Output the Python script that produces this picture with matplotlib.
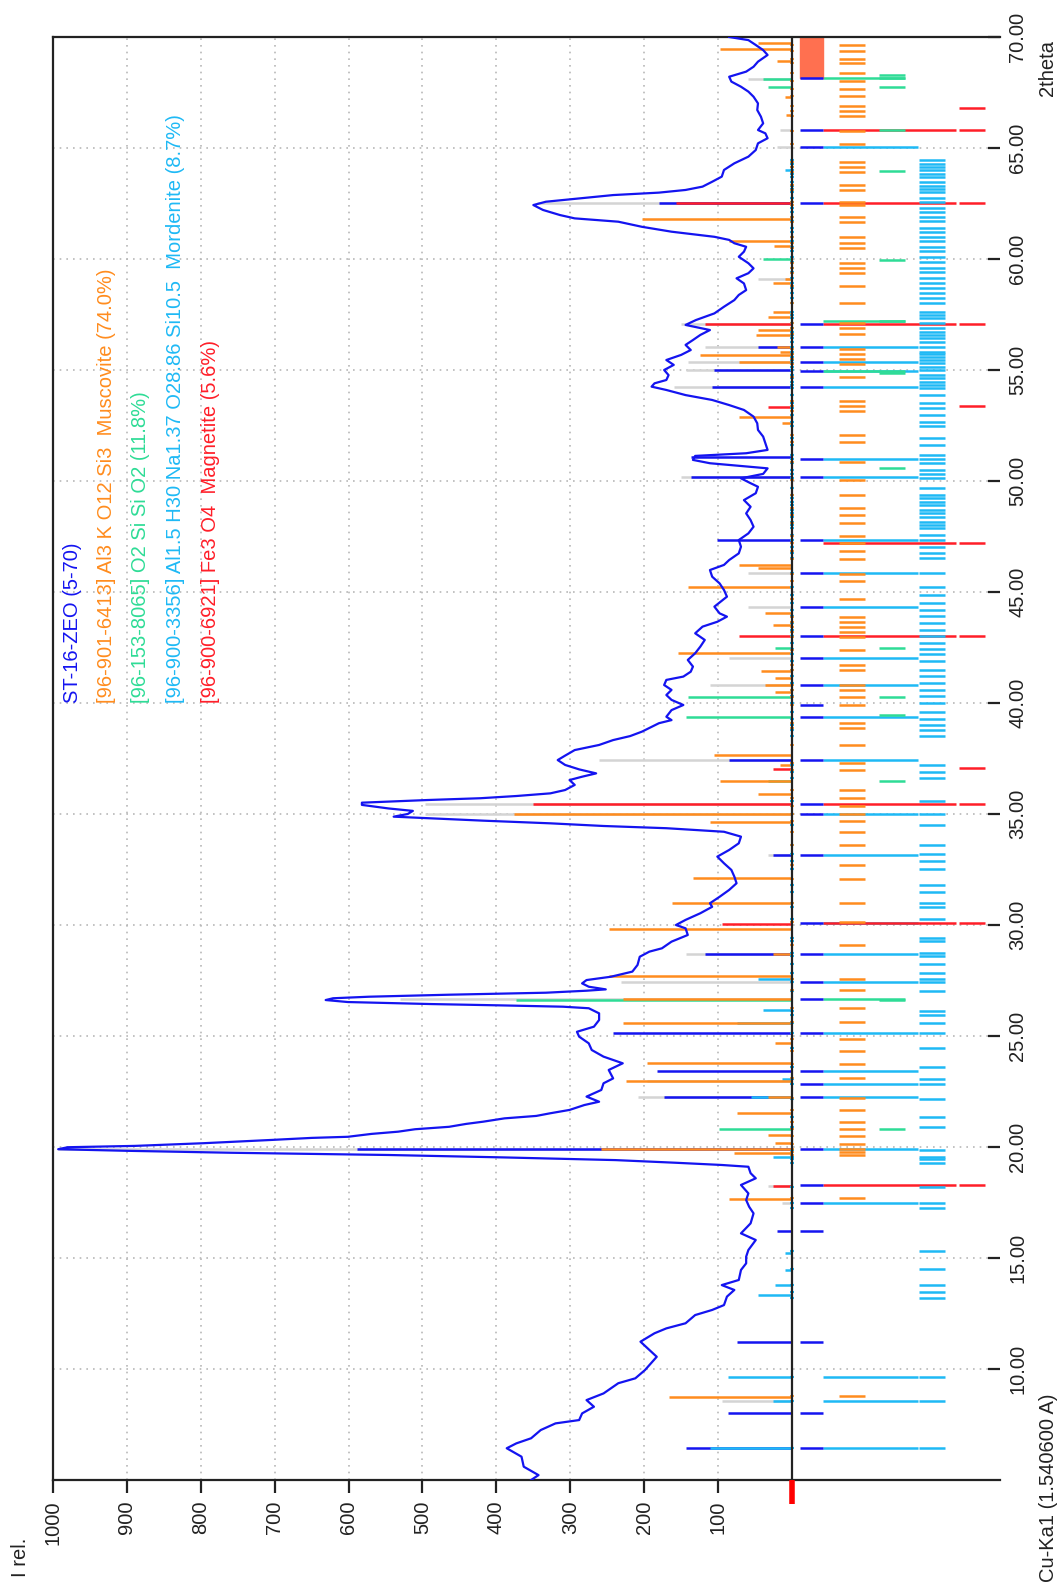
import matplotlib
matplotlib.use("Agg")
import matplotlib.pyplot as plt

plt.rcParams['font.family'] = ['Liberation Sans', 'DejaVu Sans']

# measured pattern: 2theta (deg) and relative intensity
two_theta = [5.00, 5.22, 5.60, 6.05, 6.43, 6.65, 6.88, 7.25, 7.55, 7.70, 8.00, 8.30, 8.60, 8.90,
             9.36, 9.58, 9.95, 10.55, 10.86, 11.23, 11.61, 11.83, 12.06, 12.43, 12.66, 12.88,
             13.26, 13.56, 13.78, 14.01, 14.46, 14.76, 15.06, 15.36, 15.81, 16.11, 16.56, 17.01,
             17.31, 17.61, 17.91, 18.29, 18.59, 18.82, 19.11, 19.19, 19.29, 19.41, 19.53, 19.64,
             19.74, 19.83, 19.90, 19.99, 20.05, 20.17, 20.32, 20.41, 20.46, 20.59, 20.69, 20.80,
             20.91, 21.04, 21.14, 21.29, 21.40, 21.52, 21.67, 21.89, 22.04, 22.27, 22.57, 22.87,
             23.09, 23.47, 23.77, 24.07, 24.37, 24.67, 24.97, 25.19, 25.42, 25.72, 26.02, 26.25,
             26.32, 26.38, 26.44, 26.53, 26.62, 26.70, 26.77, 26.86, 26.95, 27.04, 27.10, 27.22,
             27.37, 27.52, 27.67, 27.90, 28.20, 28.57, 28.80, 28.95, 29.25, 29.55, 29.85, 30.00,
             30.23, 30.53, 30.82, 30.98, 31.27, 31.58, 31.88, 32.18, 32.48, 32.78, 33.08, 33.38,
             33.68, 33.98, 34.20, 34.36, 34.46, 34.58, 34.70, 34.79, 34.88, 35.00, 35.14, 35.25,
             35.41, 35.51, 35.63, 35.71, 35.81, 35.93, 36.08, 36.31, 36.53, 36.68, 36.83, 37.01,
             37.21, 37.43, 37.63, 37.88, 38.11, 38.33, 38.51, 38.71, 39.09, 39.23, 39.38, 39.68,
             39.91, 40.14, 40.36, 40.59, 40.81, 41.04, 41.19, 41.41, 41.64, 41.94, 42.24, 42.54,
             42.84, 43.14, 43.44, 43.66, 43.89, 44.04, 44.34, 44.79, 45.09, 45.39, 45.69, 45.99,
             46.22, 46.44, 46.74, 47.04, 47.34, 47.64, 47.94, 48.24, 48.54, 48.84, 49.14, 49.45,
             49.74, 49.90, 50.12, 50.32, 50.57, 50.80, 50.95, 51.13, 51.25, 51.40, 51.70, 52.00,
             52.30, 52.60, 52.90, 53.20, 53.42, 53.65, 53.87, 54.10, 54.25, 54.40, 54.55, 54.77,
             55.00, 55.23, 55.45, 55.68, 55.90, 56.13, 56.35, 56.58, 56.80, 57.03, 57.25, 57.55,
             57.85, 58.15, 58.38, 58.60, 58.90, 59.13, 59.36, 59.58, 59.81, 60.10, 60.33, 60.55,
             60.71, 60.86, 61.00, 61.23, 61.45, 61.68, 61.83, 61.98, 62.21, 62.43, 62.58, 62.73,
             62.88, 62.99, 63.11, 63.26, 63.48, 63.71, 64.01, 64.31, 64.61, 64.91, 65.21, 65.44,
             65.66, 65.81, 66.11, 66.41, 66.71, 67.01, 67.31, 67.54, 67.76, 67.99, 68.21, 68.44,
             68.66, 68.89, 69.19, 69.41, 69.64, 69.86, 70.00]
intensity = [353, 343, 363, 366, 386, 373, 353, 340, 320, 288, 284, 268, 278, 255,
             235, 212, 199, 183, 193, 205, 186, 170, 144, 131, 108, 92,
             88, 78, 95, 72, 69, 62, 62, 59, 49, 69, 56, 52,
             58, 62, 59, 69, 49, 56, 59, 95, 157, 239, 389, 546,
             758, 902, 993, 980, 889, 797, 703, 650, 601, 569, 533, 510,
             464, 441, 418, 389, 346, 327, 301, 281, 261, 278, 258, 255,
             242, 248, 229, 255, 271, 275, 288, 291, 268, 261, 261, 275,
             310, 395, 490, 601, 631, 621, 572, 464, 333, 278, 252, 275,
             284, 278, 245, 216, 209, 206, 193, 176, 163, 141, 144, 157,
             144, 124, 108, 111, 98, 85, 75, 78, 82, 92, 101, 85,
             72, 69, 92, 170, 255, 327, 418, 480, 539, 520, 513, 546,
             582, 582, 493, 422, 373, 327, 307, 294, 301, 284, 265, 288,
             307, 317, 307, 294, 261, 242, 219, 203, 180, 163, 170, 163,
             147, 163, 170, 163, 173, 170, 147, 137, 134, 141, 131, 124,
             118, 131, 121, 101, 88, 98, 105, 88, 92, 98, 108, 111,
             92, 85, 72, 69, 72, 59, 52, 56, 62, 56, 65, 49,
             46, 56, 69, 39, 33, 111, 134, 131, 62, 33, 36, 39,
             46, 47, 52, 65, 85, 108, 144, 170, 190, 186, 170, 167,
             173, 160, 170, 150, 137, 144, 134, 124, 111, 144, 130, 105,
             92, 78, 72, 62, 65, 75, 59, 52, 59, 72, 65, 62,
             78, 85, 105, 163, 203, 235, 294, 314, 337, 350, 333, 288,
             242, 180, 144, 121, 108, 95, 92, 78, 59, 49, 46, 33,
             36, 46, 39, 42, 47, 46, 52, 59, 69, 82, 85, 62,
             52, 46, 33, 39, 49, 59, 85]

# phase sticks below the pattern (2theta, scaled intensity)
musc_pos = [69.74, 69.44, 68.90, 67.30, 66.50, 61.81, 60.80, 60.60, 59.11, 58.92, 57.60, 57.40,
            56.80, 56.58, 56.05, 55.80, 55.68, 55.38, 52.90, 52.60, 46.22, 46.07, 45.24, 44.04,
            43.51, 42.27, 41.44, 41.11, 40.81, 40.51, 37.66, 37.21, 36.50, 35.89, 34.99, 34.65,
            32.10, 31.00, 29.83, 28.68, 27.70, 26.65, 25.57, 24.70, 23.80, 22.97, 22.27, 21.55,
            20.54, 20.19, 19.91, 19.74, 17.66, 8.75]
musc_int = [46, 98, 20, 10, 8, 203, 85, 25, 10, 26, 26, 33,
            46, 49, 20, 16, 124, 72, 72, 13, 72, 46, 141, 36,
            26, 154, 42, 23, 36, 23, 105, 16, 98, 46, 376, 111,
            134, 163, 248, 26, 248, 229, 229, 23, 196, 225, 33, 75,
            33, 23, 258, 78, 85, 167]
quartz_pos = [68.09, 67.76, 59.98, 42.46, 40.28, 39.38, 36.50, 26.60, 20.82]
quartz_int = [39, 33, 39, 23, 141, 144, 33, 373, 99]
mord_pos = [64.00, 27.58, 26.17, 25.57, 23.05, 22.27, 19.53, 15.24, 14.46, 13.78, 13.33, 9.65,
            8.57, 6.43]
mord_int = [10, 46, 39, 75, 13, 56, 26, 10, 10, 23, 46, 86,
            26, 111]
magn_pos = [62.51, 57.05, 53.35, 43.02, 37.03, 35.44, 30.05, 18.24]
magn_int = [157, 118, 33, 72, 26, 350, 95, 26]

# peak search results (dark blue) and the light grey markers
peak_pos = [62.51, 56.05, 55.00, 54.25, 51.10, 50.20, 47.34, 37.41, 33.15, 28.68, 25.15, 23.42,
            22.27, 19.91, 16.22, 11.20, 8.03, 6.43]
peak_int = [180, 46, 105, 108, 137, 137, 101, 85, 26, 118, 242, 183,
            173, 588, 20, 75, 86, 144]
grey_pos = [68.09, 65.81, 65.06, 62.51, 59.11, 57.05, 56.05, 55.38, 55.00, 54.25, 50.20, 45.84,
            44.34, 42.01, 40.81, 37.41, 35.44, 34.99, 33.15, 28.68, 27.43, 26.65, 22.97, 22.27,
            19.91, 18.24, 17.46, 8.57]
grey_int = [59, 16, 20, 345, 46, 150, 118, 141, 144, 160, 150, 59,
            59, 85, 111, 261, 497, 497, 33, 144, 232, 530, 196, 209,
            993, 33, 13, 95]

# reference line positions shown in the columns right of zero
peak_list = [68.14, 65.81, 65.06, 62.51, 57.06, 56.05, 55.35, 54.97, 54.25, 50.99, 50.19, 47.34,
             45.87, 44.34, 43.02, 42.01, 40.81, 39.93, 39.38, 37.41, 35.44, 35.01, 33.15, 30.10,
             28.68, 27.42, 26.67, 25.15, 23.44, 22.82, 22.27, 19.92, 18.29, 17.49, 16.23, 11.20,
             8.03, 6.43]
musc_ref = [69.62, 69.39, 69.03, 68.84, 68.39, 68.02, 67.66, 67.34, 66.89, 66.66, 66.43, 65.75,
            65.16, 64.38, 64.15, 63.93, 63.33, 63.11, 62.56, 62.42, 61.88, 61.65, 60.97, 60.74,
            60.51, 59.83, 59.60, 59.37, 58.78, 58.01, 57.10, 56.87, 56.64, 55.96, 55.73, 55.50,
            55.28, 54.68, 53.59, 53.36, 53.14, 52.09, 51.77, 50.86, 50.04, 49.36, 48.77, 48.45,
            48.13, 47.54, 47.22, 46.85, 46.49, 45.80, 45.49, 44.67, 43.89, 43.67, 43.44, 43.21,
            42.98, 42.39, 41.71, 41.48, 40.80, 40.57, 40.25, 39.93, 39.11, 38.89, 38.11, 37.29,
            36.97, 36.06, 35.70, 35.38, 35.02, 34.70, 34.20, 33.60, 32.69, 32.06, 31.01, 30.14,
            29.10, 27.59, 27.05, 26.27, 25.64, 24.86, 24.32, 23.72, 23.09, 22.22, 21.68, 21.13,
            20.81, 20.49, 20.13, 19.90, 19.76, 19.62, 17.71, 8.78]
quartz_ref = [68.29, 68.15, 67.76, 65.81, 63.98, 59.97, 57.20, 54.88, 50.57, 42.46, 40.28, 39.45,
              36.50, 26.62, 20.82]
mord_ref = [64.45, 64.30, 64.15, 64.00, 63.85, 63.70, 63.45, 63.30, 63.15, 63.00, 62.75, 62.55,
            62.30, 62.10, 61.90, 61.70, 61.40, 61.20, 61.00, 60.80, 60.55, 60.35, 60.10, 59.85,
            59.60, 59.40, 59.15, 58.90, 58.70, 58.45, 58.25, 58.03, 57.63, 57.48, 57.33, 57.10,
            56.88, 56.73, 56.58, 56.43, 56.28, 56.05, 55.82, 55.71, 55.60, 55.45, 55.30, 55.15,
            55.00, 54.77, 54.63, 54.47, 54.32, 54.18, 53.87, 53.50, 53.27, 52.97, 52.67, 52.48,
            51.92, 51.62, 51.17, 50.98, 50.80, 50.50, 50.32, 50.12, 49.67, 49.37, 49.22, 49.07,
            48.92, 48.69, 48.54, 48.39, 48.17, 48.02, 47.87, 47.57, 47.34, 47.04, 46.74, 46.52,
            45.84, 45.24, 44.86, 44.50, 44.20, 43.90, 43.60, 43.30, 43.00, 42.70, 42.45, 42.20,
            41.90, 41.50, 41.20, 40.90, 40.60, 40.30, 40.00, 39.60, 39.30, 39.00, 38.80, 38.50,
            37.20, 36.90, 36.60, 35.60, 35.00, 34.50, 33.60, 33.20, 32.90, 32.50, 31.80, 31.50,
            31.00, 30.80, 30.27, 29.43, 29.30, 28.75, 28.62, 28.23, 27.82, 27.57, 27.42, 27.04,
            26.14, 25.95, 25.60, 25.15, 24.46, 23.62, 23.08, 22.82, 22.16, 21.37, 20.91, 19.86,
            19.56, 19.44, 19.29, 18.18, 17.49, 17.24, 15.30, 14.50, 13.80, 13.45, 13.20, 9.65,
            8.57, 6.43]
magn_ref = [66.80, 65.81, 62.51, 57.06, 53.40, 47.22, 43.02, 37.06, 35.44, 30.10, 18.29]

# peaks linked to a phase by a long line
mord_link = [65.06, 56.05, 55.35, 54.97, 54.25, 50.99, 50.19, 47.34, 45.87, 44.34, 42.01, 40.81,
             39.38, 37.41, 35.01, 33.15, 30.10, 28.68, 27.42, 25.15, 23.44, 22.82, 22.27, 19.92,
             17.49, 9.65, 8.57, 6.43]
quartz_link = [68.14, 57.20, 54.97, 26.67]
magn_link = [65.81, 62.51, 57.06, 47.22, 43.02, 35.44, 30.10, 18.29]

blue = '#1414f0'
orange = '#ff8c1e'
green = '#2edc96'
lblue = '#1eb9f5'
red = '#ff1e28'
grey = '#d4d4d4'

W, H = 1063, 1585
fig = plt.figure(figsize=(W / 100, H / 100), dpi=100)
ax = fig.add_axes([53 / W, 105 / H, 947 / W, 1443 / H])
ax.set_xlim(1000, -281.5)
ax.set_ylim(5, 70)

# column extents (intensity units, right of zero)
pk = (-11, -42)
mc = (-64, -99)
qc = (-118, -153)
oc = (-172, -207)
rc = (-226, -261)

# sticks left of zero
ax.hlines(grey_pos, 0, grey_int, colors=grey, lw=1.8, zorder=2)
ax.hlines(peak_pos, 0, peak_int, colors=blue, lw=1.8, zorder=3)
ax.hlines(mord_pos, 0, mord_int, colors=lblue, lw=1.8, zorder=3)
ax.hlines(quartz_pos, 0, quartz_int, colors=green, lw=1.8, zorder=3)
ax.hlines(musc_pos, 0, musc_int, colors=orange, lw=1.8, zorder=3)
ax.hlines(magn_pos, 0, magn_int, colors=red, lw=1.8, zorder=3)

# tiny marks on the zero line
ax.hlines(mord_ref, 3, -3, colors=lblue, lw=1.5, zorder=4)
ax.hlines(musc_ref, 3, -3, colors=orange, lw=1.2, zorder=4)

# linking lines and reference columns
ax.hlines(mord_link, pk[1], oc[0] + 2, colors=lblue, lw=1.8, zorder=2)
ax.hlines(quartz_link, pk[1], qc[1], colors=green, lw=1.8, zorder=2)
ax.hlines(magn_link, pk[1], rc[0] + 4, colors=red, lw=1.8, zorder=3)
ax.hlines(peak_list, pk[0], pk[1], colors=blue, lw=1.8, zorder=3)
ax.hlines(musc_ref, mc[0], mc[1], colors=orange, lw=1.8, zorder=3)
ax.hlines(quartz_ref, qc[0], qc[1], colors=green, lw=1.8, zorder=3)
ax.hlines(mord_ref, oc[0], oc[1], colors=lblue, lw=1.8, zorder=3)
ax.hlines(magn_ref, rc[0], rc[1], colors=red, lw=1.8, zorder=3)
ax.fill_betweenx([68.14, 70], pk[0], pk[1], color='#ff7050', zorder=2)

# measured pattern
ax.plot(intensity, two_theta, color=blue, lw=1.6, zorder=6)

ax.axvline(0, color='#222222', lw=1.6, zorder=5)
ax.plot([0, 0], [5, 3.9], color='red', lw=4, solid_capstyle='butt', clip_on=False, zorder=7)

for s in ['left', 'top', 'bottom']:
    ax.spines[s].set_linewidth(1.6)
    ax.spines[s].set_color('#222222')
ax.spines['right'].set_visible(False)

ax.set_xticks(range(100, 1001, 100))
ax.set_xticklabels([str(v) for v in range(100, 1001, 100)], rotation=90)
ax.set_yticks(range(10, 71, 5))
ax.set_yticklabels(['%.2f' % v for v in range(10, 71, 5)], rotation=90, va='center')
ax.yaxis.tick_right()
ax.tick_params(axis='x', direction='out', length=9, width=1.6, labelsize=14.5, pad=6, colors='#222222')
ax.tick_params(axis='y', direction='in', length=9, width=1.6, labelsize=14.5, pad=6, colors='#222222')
ax.grid(True, linestyle=(0, (1, 3)), color='#b8b8b8', lw=1.2)
ax.set_axisbelow(True)

# legend texts
legend = [('ST-16-ZEO (5-70)', blue),
          ('[96-901-6413] Al3 K O12 Si3  Muscovite (74.0%)', orange),
          ('[96-153-8065] O2 Si Si O2 (11.8%)', green),
          ('[96-900-3356] Al1.5 H30 Na1.37 O28.86 Si10.5  Mordenite (8.7%)', lblue),
          ('[96-900-6921] Fe3 O4  Magnetite (5.6%)', red)]
for i, (txt, c) in enumerate(legend):
    fig.text((72 + 34.5 * i) / W, 1 - 703 / H, txt, color=c, rotation=90,
             ha='center', va='bottom', fontsize=14.5)

fig.text(21 / W, 1 - 1577 / H, 'I rel.', rotation=90, ha='center', va='bottom',
         fontsize=14.5, color='#222222')
fig.text(1048 / W, 1 - 1582 / H, 'Cu-Ka1 (1.540600 A)', rotation=90, ha='center', va='bottom',
         fontsize=14.5, color='#222222')
fig.text(1048 / W, 1 - 68 / H, '2theta', rotation=90, ha='center', va='center',
         fontsize=14.5, color='#222222')

fig.savefig('out.png', dpi=100)
